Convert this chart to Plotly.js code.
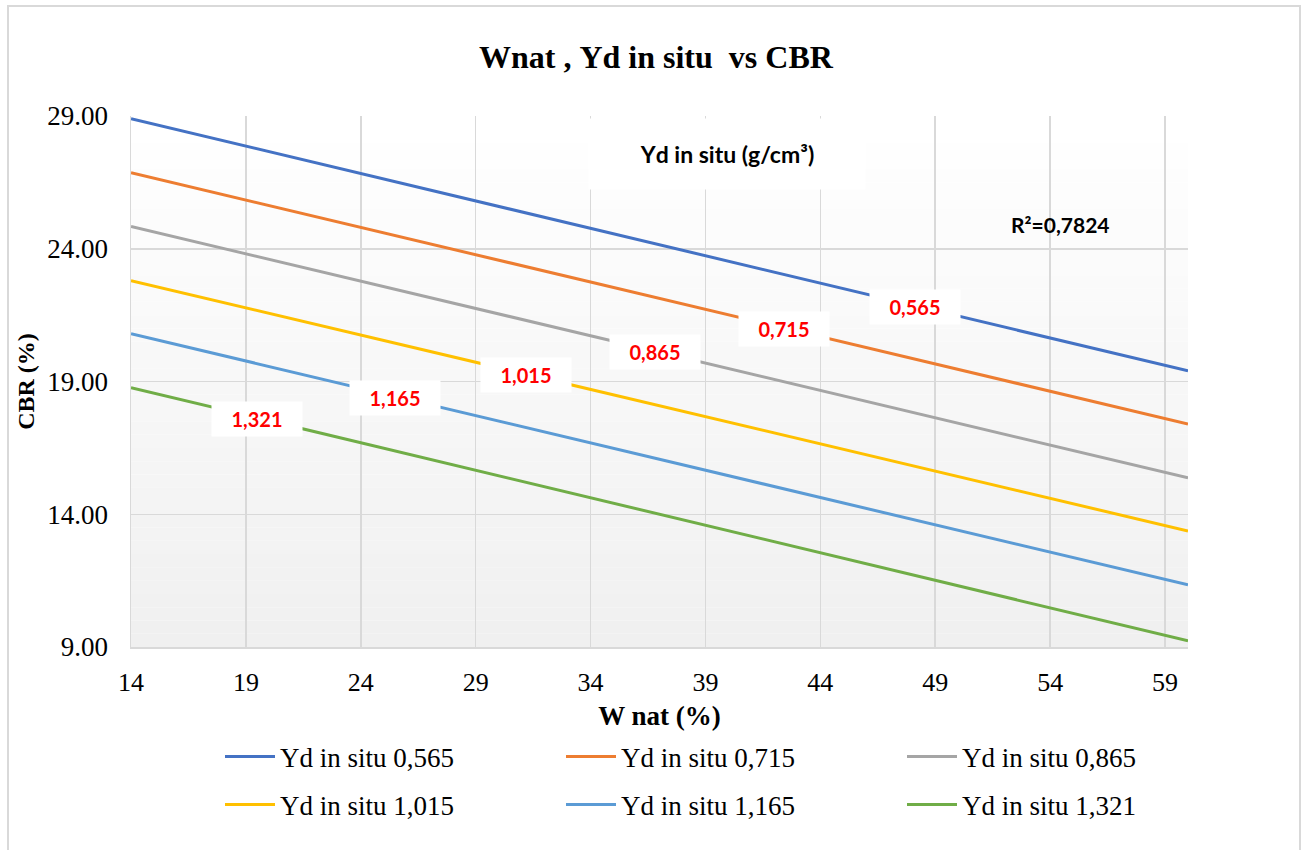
<!DOCTYPE html>
<html><head><meta charset="utf-8">
<script src="https://cdn.plot.ly/plotly-3.0.1.min.js"></script>
<style>
html,body{margin:0;padding:0;background:#fff;}
#chart{position:absolute;left:0;top:0;width:1304px;height:850px;}
#frame{position:absolute;left:7px;top:5px;width:1290px;height:870px;border:2px solid #d9d9d9;pointer-events:none;}
</style></head><body>
<div id="chart"></div><div id="frame"></div>
<script>
// ---- data ----
const wNat = [14, 60];
const gammaLabels = ["0,565", "0,715", "0,865", "1,015", "1,165", "1,321"];
const cbr_0565 = [28.90, 19.40];
const cbr_0715 = [26.86, 17.40];
const cbr_0865 = [24.84, 15.37];
const cbr_1015 = [22.80, 13.37];
const cbr_1165 = [20.80, 11.34];
const cbr_1321 = [18.77, 9.23];
const labelW = [48.1, 42.4, 36.8, 31.2, 25.5, 19.5];
const xTicks = [14, 19, 24, 29, 34, 39, 44, 49, 54, 59];
const yTicks = [9, 14, 19, 24, 29];
const rSquared = "R²=0,7824";

const series = [cbr_0565, cbr_0715, cbr_0865, cbr_1015, cbr_1165, cbr_1321];
const colors = ["#4472C4", "#ED7D31", "#A5A5A5", "#FFC000", "#5B9BD5", "#70AD47"];

const traces = series.map((ys, i) => ({
  type: "scatter", mode: "lines", x: wNat, y: ys,
  name: "Υd in situ " + gammaLabels[i],
  legend: i < 3 ? "legend" : "legend2",
  line: {color: colors[i], width: 3},
  hoverinfo: "x+y"
}));

function interp(xs, ys, x) {
  const t = (x - xs[0]) / (xs[xs.length - 1] - xs[0]);
  return ys[0] + t * (ys[ys.length - 1] - ys[0]);
}

const sans = "Lato, Open Sans, sans-serif";
const serif = "Liberation Serif, Times New Roman, serif";

const annotations = gammaLabels.map((lab, i) => ({
  x: labelW[i], y: interp(wNat, series[i], labelW[i]), xref: "x", yref: "y",
  text: "<b>" + lab + "</b>", showarrow: false, bgcolor: "#ffffff", width: 88, height: 32,
  xanchor: "center", yanchor: "middle",
  font: {family: sans, size: 20, color: "#ff0000"},
  yshift: -1
}));
annotations.push({
  x: 0.564, y: 0.928, xref: "paper", yref: "paper", text: "<b>Υd in situ (g/cm³)</b>",
  xanchor: "center", yanchor: "middle",
  showarrow: false, bgcolor: "#ffffff", width: 274, height: 68,
  font: {family: sans, size: 23, color: "#000"}
});
annotations.push({
  x: 0.879, y: 0.795, xref: "paper", yref: "paper", text: "<b>" + rSquared + "</b>",
  xanchor: "center", yanchor: "middle", showarrow: false,
  font: {family: sans, size: 21, color: "#000"}
});

// gradient background bands
const shapes = [];
const N = 40;
for (let i = 0; i < N; i++) {
  const t = i / (N - 1);
  const c = Math.round(240 + 15 * t);
  shapes.push({type: "rect", xref: "x domain", yref: "y domain", x0: 0, x1: 1,
    y0: i / N, y1: (i + 1) / N, fillcolor: `rgb(${c},${c},${c})`, line: {width: 0}, layer: "below"});
}

const legendBase = {orientation: "h", x: 0.0842, xanchor: "left", yanchor: "middle",
  itemwidth: 50, entrywidth: 276, font: {family: serif, size: 27, color: "#000"}, bgcolor: "rgba(0,0,0,0)"};

const layout = {
  width: 1304, height: 850,
  paper_bgcolor: "#ffffff", plot_bgcolor: "rgba(0,0,0,0)",
  margin: {l: 131, r: 116, t: 116, b: 203},
  title: {text: "<b>Wnat , Υd in situ  vs CBR</b>", x: 0.503, xanchor: "center", y: 0.933, yanchor: "middle",
    font: {family: serif, size: 32, color: "#000"}},
  xaxis: {range: [14, 60], tickvals: xTicks, showgrid: true, gridcolor: "#d9d9d9", gridwidth: 1.5,
    zeroline: false, showline: true, linecolor: "#d9d9d9", linewidth: 1.5, ticks: "", ticklabelstandoff: 11,
    tickfont: {family: serif, size: 26, color: "#000"},
    title: {text: "<b>W nat (%)</b>", font: {family: serif, size: 27, color: "#000"}, standoff: 10}},
  yaxis: {range: [9, 29], tickvals: yTicks, tickformat: ".2f", showgrid: true, gridcolor: "#d9d9d9", gridwidth: 1.5,
    zeroline: false, showline: true, linecolor: "#d9d9d9", linewidth: 1.5, ticks: "", ticklabelstandoff: 16,
    tickfont: {family: serif, size: 27, color: "#000"},
    title: {text: "<b>CBR (%)</b>", font: {family: serif, size: 24, color: "#000"}, standoff: 6}},
  showlegend: true,
  legend: Object.assign({}, legendBase, {y: -(757 - 647) / 531}),
  legend2: Object.assign({}, legendBase, {y: -(805 - 647) / 531}),
  annotations: annotations,
  shapes: shapes
};

Plotly.newPlot("chart", traces, layout, {displayModeBar: false, staticPlot: true});
</script>
</body></html>
